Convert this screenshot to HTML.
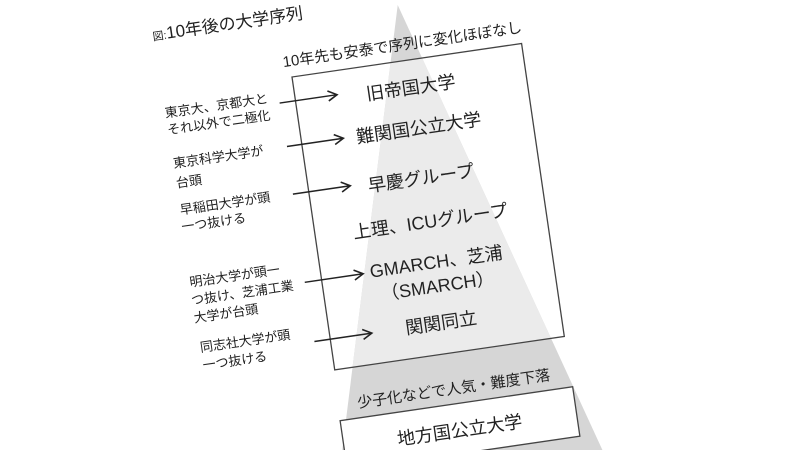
<!DOCTYPE html>
<html><head><meta charset="utf-8"><style>
html,body{margin:0;padding:0;background:#fff;width:800px;height:450px;overflow:hidden}
svg{display:block;overflow:hidden}
svg text{font-family:"Liberation Sans","Noto Sans CJK JP",sans-serif;fill:#222}
</style></head><body>
<svg width="800" height="450" viewBox="0 0 800 450" xmlns="http://www.w3.org/2000/svg">
<defs>
<marker id="ah" markerWidth="12" markerHeight="12" refX="10" refY="6" orient="auto" markerUnits="userSpaceOnUse">
<path d="M1,1 L10,6 L1,11" fill="none" stroke="#222" stroke-width="1.6"/>
</marker>
<clipPath id="bc"><rect x="292" y="77" width="232" height="296"/></clipPath>
<clipPath id="frame"><rect x="0" y="0" width="800" height="450"/></clipPath>
</defs>
<g clip-path="url(#frame)">
<g transform="rotate(-8.3 292 77)">
<polygon points="407,21 275,500 548,500" fill="#d6d6d6"/>
<polygon points="407,21 275,500 548,500" fill="#ebebeb" clip-path="url(#bc)"/>
<rect x="292" y="77" width="232" height="296" fill="none" stroke="#444" stroke-width="1.3"/>
<rect x="290" y="424" width="235" height="50" fill="#fff" stroke="#444" stroke-width="1.3"/>
<text x="160" y="21" font-size="11">図:</text>
<text x="174" y="21" font-size="17">10年後の大学序列</text>
<text x="285" y="66" font-size="15">10年先も安泰で序列に変化ほぼなし</text>
<g font-size="18" text-anchor="middle">
<text x="408" y="111">旧帝国大学</text>
<text x="410" y="152">難関国公立大学</text>
<text x="405" y="202">早慶グループ</text>
<text x="408" y="246">上理、ICUグループ</text>
<text x="408" y="287">GMARCH、芝浦</text>
<text x="406" y="311">（SMARCH）</text>
<text x="404" y="348">関関同立</text>
<text x="407" y="414" font-size="15">少子化などで人気・難度下落</text>
<text x="407" y="457">地方国公立大学</text>
</g>
<g stroke="#222" stroke-width="1.5" marker-end="url(#ah)">
<line x1="276" y1="101" x2="334" y2="101"/>
<line x1="277" y1="145" x2="334" y2="145"/>
<line x1="276" y1="193" x2="334" y2="193"/>
<line x1="275" y1="282" x2="334" y2="282"/>
<line x1="276" y1="342" x2="334" y2="342"/>
</g>
<g font-size="13">
<text x="161" y="99">東京大、京都大と</text>
<text x="161" y="116">それ以外で二極化</text>
<text x="162" y="150">東京科学大学が</text>
<text x="162" y="170">台頭</text>
<text x="162" y="197">早稲田大学が頭</text>
<text x="161" y="214">一つ抜ける</text>
<text x="161" y="270">明治大学が頭一</text>
<text x="160" y="288">つ抜け、芝浦工業</text>
<text x="160" y="306">大学が台頭</text>
<text x="162" y="336">同志社大学が頭</text>
<text x="162" y="354">一つ抜ける</text>
</g>
</g>
</g>
</svg>
</body></html>
